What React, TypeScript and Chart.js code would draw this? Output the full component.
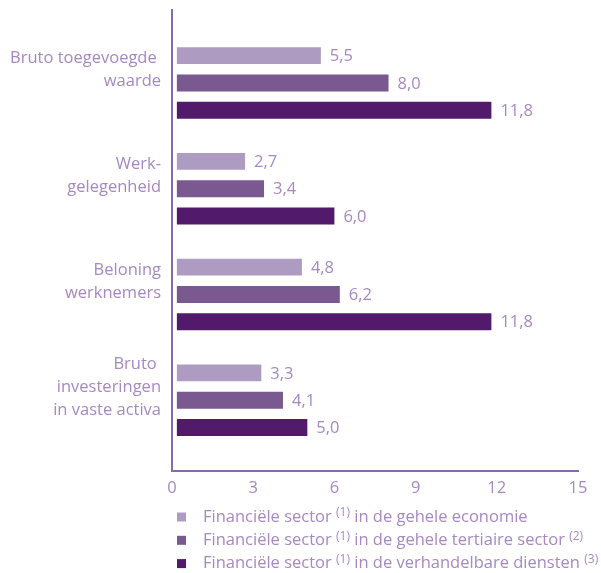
import React, { useEffect, useRef } from 'react';
import { Chart, registerables } from 'chart.js';

Chart.register(...registerables);

const categories: string[][] = [
  ['Bruto toegevoegde ', 'waarde'],
  ['Werk-', 'gelegenheid'],
  ['Beloning', 'werknemers'],
  ['Bruto ', 'investeringen', 'in vaste activa'],
];
const seriesLabels = [
  'Financiële sector (1) in de gehele economie',
  'Financiële sector (1) in de gehele tertiaire sector (2)',
  'Financiële sector (1) in de verhandelbare diensten (3)',
];
const economie = [5.5, 2.7, 4.8, 3.3];
const tertiair = [8.0, 3.4, 6.2, 4.1];
const verhandelbaar = [11.8, 6.0, 11.8, 5.0];
const xTicks = [0, 3, 6, 9, 12, 15];

const FONT = '"Open Sans", "Noto Sans", sans-serif';
const FS = 16.5;
const TEXT = '#a688c2';
const AXIS = '#8a6aa5';
const COLORS = ['#ae9bc1', '#7a5990', '#511a6b'];

const valueLabels = {
  id: 'valueLabels',
  afterDatasetsDraw(chart: any) {
    const ctx = chart.ctx;
    ctx.save();
    ctx.font = `${FS}px ${FONT}`;
    ctx.fillStyle = TEXT;
    ctx.textBaseline = 'middle';
    ctx.textAlign = 'left';
    chart.data.datasets.forEach((ds: any, di: number) => {
      chart.getDatasetMeta(di).data.forEach((bar: any, i: number) => {
        const v = ds.data[i].x as number;
        ctx.fillText(v.toFixed(1).replace('.', ','), bar.x + 9, bar.y + 1);
      });
    });
    ctx.restore();
  },
};

const customLegend = {
  id: 'customLegend',
  afterDraw(chart: any) {
    const ctx = chart.ctx;
    const area = chart.chartArea;
    ctx.save();
    ctx.textBaseline = 'middle';
    ctx.textAlign = 'left';
    chart.data.datasets.forEach((ds: any, di: number) => {
      const cy = area.bottom + 46 + di * 23.3;
      ctx.fillStyle = ds.backgroundColor;
      ctx.fillRect(area.left + 5, cy - 4.5, 9, 9);
      let x = area.left + 31;
      const parts = (ds.label as string).split(/(\(\d\))/);
      ctx.fillStyle = TEXT;
      parts.forEach((p) => {
        if (!p) return;
        if (/^\(\d\)$/.test(p)) {
          ctx.font = `12px ${FONT}`;
          ctx.fillText(p, x, cy - 4);
        } else {
          ctx.font = `${FS}px ${FONT}`;
          ctx.fillText(p, x, cy);
        }
        x += ctx.measureText(p).width;
      });
    });
    ctx.restore();
  },
};

export default function App() {
  const ref = useRef<HTMLCanvasElement>(null);
  useEffect(() => {
    document.body.style.margin = '0';
    const series = [economie, tertiair, verhandelbaar];
    const chart = new Chart(ref.current as HTMLCanvasElement, {
      type: 'bar',
      data: {
        datasets: series.map((vals, si) => ({
          label: seriesLabels[si],
          data: vals.map((v, i) => ({ x: v, y: i })),
          backgroundColor: COLORS[si],
          base: 0.18,
          categoryPercentage: 0.775,
          barPercentage: 0.62,
        })),
      },
      options: {
        indexAxis: 'y',
        animation: false,
        responsive: false,
        devicePixelRatio: 1,
        layout: { padding: { top: 10, right: 23, left: 0, bottom: 0 } },
        plugins: { legend: { display: false }, tooltip: { enabled: false } },
        scales: {
          y: {
            type: 'linear',
            reverse: true,
            offset: false,
            min: -0.69,
            max: 3.67,
            afterBuildTicks: (s: any) => {
              s.ticks = categories.map((_, i) => ({ value: i }));
            },
            afterFit: (s: any) => {
              s.width = 172;
              s.paddingTop = 0;
              s.paddingBottom = 0;
            },
            ticks: {
              callback: (v: any) => categories[v as number],
              font: { family: FONT, size: FS, lineHeight: 23 / FS },
              color: TEXT,
              padding: 11,
              labelOffset: -13,
              crossAlign: 'near',
              autoSkip: false,
            },
            grid: { offset: false, drawOnChartArea: false, drawTicks: false, color: 'transparent' },
            border: { color: AXIS, width: 2 },
          },
          x: {
            type: 'linear',
            min: 0,
            max: 15,
            afterBuildTicks: (s: any) => {
              s.ticks = xTicks.map((v) => ({ value: v }));
            },
            afterFit: (s: any) => {
              s.height = 102;
              s.paddingLeft = 0;
              s.paddingRight = 0;
            },
            ticks: {
              callback: (v: any) => String(v),
              font: { family: FONT, size: FS },
              color: TEXT,
              padding: 7,
              autoSkip: false,
              maxRotation: 0,
            },
            grid: { drawOnChartArea: false, drawTicks: false, color: 'transparent' },
            border: { color: AXIS, width: 2 },
          },
        },
      },
      plugins: [valueLabels, customLegend],
    } as any);
    return () => chart.destroy();
  }, []);
  return (
    <div style={{ width: 601, height: 573 }}>
      <canvas ref={ref} width={601} height={573} style={{ display: 'block' }} />
    </div>
  );
}
